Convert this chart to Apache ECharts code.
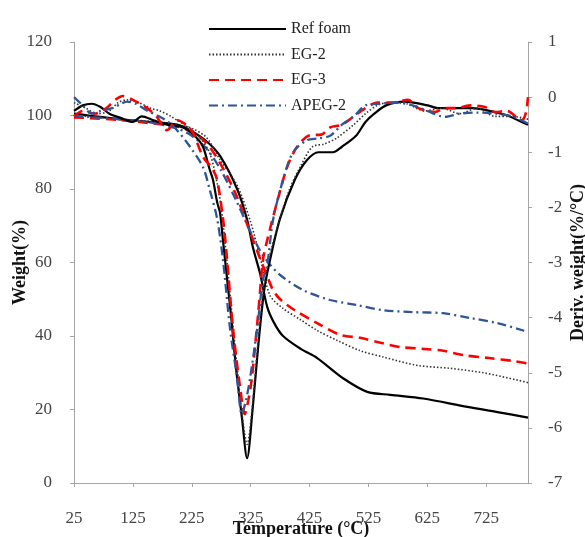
<!DOCTYPE html>
<html><head><meta charset="utf-8">
<script src="https://cdn.jsdelivr.net/npm/echarts@6/dist/echarts.min.js"></script>
<style>html,body{margin:0;padding:0;background:#fff}#c{width:585px;height:537px}</style>
</head><body><div id="c"></div>
<script>
// ---- Data ----
const seriesNames = ['Ref foam', 'EG-2', 'EG-3', 'APEG-2'];
const xTickLabels = [25, 125, 225, 325, 425, 525, 625, 725];

// TGA (weight %, left axis)
const refTgaT = [25, 50, 100, 150, 200, 222, 250, 273, 302, 319, 329, 341, 353, 365, 380, 410, 438, 482, 523, 562, 618, 693, 744, 796];
const refTgaW = [100.5, 100, 99, 98.3, 97.5, 96, 93, 89, 80, 71.6, 64, 57, 48, 43.5, 40, 36.5, 34, 28.5, 24.8, 24, 23, 20.7, 19.3, 17.8];

const eg2TgaT = [25, 50, 100, 150, 200, 225, 250, 273, 302, 324, 341, 358, 380, 409, 438, 472, 511, 550, 608, 664, 720, 778, 796];
const eg2TgaW = [100, 99.7, 99, 98.5, 97.5, 96.5, 94, 88, 81, 71.5, 61.5, 51, 47.5, 44.5, 41.5, 38.8, 36, 34.3, 32, 31.2, 30, 28, 27.3];

const eg3TgaT = [25, 50, 100, 150, 200, 225, 250, 275, 300, 320, 340, 355, 363, 375, 400, 438, 477, 511, 550, 579, 618, 652, 686, 730, 771, 796];
const eg3TgaW = [99.5, 99.3, 98.8, 98, 97, 95.5, 92.5, 86.5, 78.5, 70, 61.5, 55.5, 52.5, 50, 47, 43.5, 40.3, 39.5, 38, 37, 36.5, 36, 34.8, 34, 33.2, 32.5];

const apegTgaT = [25, 50, 100, 150, 200, 225, 250, 275, 300, 320, 340, 355, 375, 414, 460, 506, 550, 601, 652, 698, 744, 788, 796];
const apegTgaW = [100, 99.6, 99, 98.2, 96.5, 94.5, 91, 85, 77, 70, 63.5, 60, 56.6, 52.5, 49.8, 48.4, 47, 46.5, 46.2, 44.9, 43.5, 41.5, 41];

// DTG (deriv. weight %/°C, right axis)
const refDtgT = [25, 40, 55, 70, 85, 105, 125, 140, 160, 183, 210, 230, 244, 255, 261, 268, 273, 278, 285, 292, 300, 310, 319, 328, 338, 348, 358, 375, 400, 420, 440, 465, 480, 504, 520, 535, 555, 586, 626, 643, 701, 723, 760, 779, 796];
const refDtgD = [-0.25, -0.15, -0.12, -0.18, -0.3, -0.38, -0.45, -0.35, -0.42, -0.5, -0.55, -0.7, -0.9, -1.3, -1.5, -1.9, -2.1, -2.6, -3.3, -4.0, -4.9, -5.8, -6.55, -5.7, -4.5, -3.5, -2.95, -2.2, -1.5, -1.15, -1.0, -1.0, -0.9, -0.7, -0.45, -0.3, -0.15, -0.08, -0.15, -0.2, -0.2, -0.23, -0.33, -0.42, -0.5];

const eg2DtgT = [25, 45, 65, 85, 100, 115, 135, 155, 171, 190, 200, 220, 240, 255, 265, 275, 283, 292, 302, 311, 319, 327, 337, 347, 357, 372, 390, 410, 430, 450, 470, 500, 520, 540, 560, 590, 620, 650, 680, 710, 740, 770, 796];
const eg2DtgD = [-0.1, -0.2, -0.3, -0.25, -0.1, -0.05, -0.1, -0.2, -0.25, -0.35, -0.42, -0.55, -0.75, -1.0, -1.4, -2.0, -2.8, -3.8, -4.9, -5.8, -6.3, -5.7, -4.5, -3.5, -2.9, -2.3, -1.7, -1.25, -0.9, -0.85, -0.75, -0.5, -0.3, -0.15, -0.1, -0.12, -0.25, -0.2, -0.3, -0.2, -0.35, -0.35, -0.4];

const eg3DtgT = [25, 40, 60, 80, 95, 108, 125, 149, 165, 183, 200, 215, 227, 244, 260, 268, 278, 285, 295, 307, 315, 321, 327, 338, 346, 353, 370, 387, 404, 426, 445, 460, 480, 500, 520, 540, 565, 592, 610, 638, 655, 672, 700, 723, 740, 760, 785, 792, 796];
const eg3DtgD = [-0.35, -0.25, -0.3, -0.2, -0.05, 0.02, -0.05, -0.2, -0.35, -0.6, -0.42, -0.5, -0.65, -1.08, -1.3, -1.5, -2.2, -2.95, -4.2, -5.26, -5.75, -5.5, -5.1, -3.9, -2.95, -2.6, -1.9, -1.27, -0.9, -0.69, -0.68, -0.55, -0.5, -0.35, -0.2, -0.1, -0.1, -0.05, -0.2, -0.27, -0.2, -0.2, -0.15, -0.18, -0.27, -0.25, -0.42, -0.3, 0.0];

const apegDtgT = [25, 40, 55, 70, 90, 105, 115, 130, 150, 170, 185, 200, 222, 244, 256, 268, 278, 290, 302, 310, 317, 324, 336, 346, 353, 363, 380, 397, 421, 440, 460, 480, 500, 520, 545, 575, 600, 625, 655, 680, 710, 740, 770, 796];
const apegDtgD = [0.0, -0.15, -0.3, -0.25, -0.2, -0.12, -0.08, -0.12, -0.25, -0.35, -0.45, -0.6, -0.9, -1.27, -1.7, -2.2, -2.95, -4.2, -5.1, -5.75, -5.5, -5.1, -4.2, -3.3, -3.05, -2.23, -1.5, -1.0, -0.78, -0.75, -0.7, -0.5, -0.35, -0.15, -0.12, -0.1, -0.15, -0.25, -0.36, -0.3, -0.28, -0.3, -0.35, -0.48];

// ---- Build ----
function zip(t, v) { return t.map((x, i) => [x, v[i]]); }
const styles = {
  'Ref foam': { color: '#000000', width: 2.2, type: 'solid' },
  'EG-2': { color: '#333333', width: 1.6, type: [1.5, 2] },
  'EG-3': { color: '#ff0000', width: 2.6, type: [10, 6] },
  'APEG-2': { color: '#2f5597', width: 2.3, type: [9, 4, 2, 4] }
};
const tga = { 'Ref foam': zip(refTgaT, refTgaW), 'EG-2': zip(eg2TgaT, eg2TgaW), 'EG-3': zip(eg3TgaT, eg3TgaW), 'APEG-2': zip(apegTgaT, apegTgaW) };
const dtg = { 'Ref foam': zip(refDtgT, refDtgD), 'EG-2': zip(eg2DtgT, eg2DtgD), 'EG-3': zip(eg3DtgT, eg3DtgD), 'APEG-2': zip(apegDtgT, apegDtgD) };

const series = [];
seriesNames.forEach(n => {
  const s = styles[n];
  series.push({ name: n, type: 'line', yAxisIndex: 0, data: tga[n], symbol: 'none', smooth: 0.3,
    lineStyle: { color: s.color, width: s.width, type: s.type }, itemStyle: { color: s.color }, z: 3 });
});
seriesNames.forEach(n => {
  const s = styles[n];
  series.push({ name: n, type: 'line', yAxisIndex: 1, data: dtg[n], symbol: 'none', smooth: 0.3,
    lineStyle: { color: s.color, width: s.width, type: s.type }, itemStyle: { color: s.color }, z: 3 });
});

const FONT = '"Liberation Serif", "DejaVu Serif", serif';
const chart = echarts.init(document.getElementById('c'), null, { renderer: 'canvas' });
chart.setOption({
  backgroundColor: '#ffffff',
  animation: false,
  grid: { left: 74, right: 57, top: 42, bottom: 54, containLabel: false, outerBoundsMode: 'none' },
  legend: {
    data: seriesNames, orient: 'vertical', left: 203, top: 16,
    itemWidth: 77, itemHeight: 14, itemGap: 9.5,
    itemStyle: { opacity: 0, color: 'transparent', borderWidth: 0 },
    textStyle: { fontFamily: FONT, fontSize: 16, color: '#222' }
  },
  xAxis: {
    type: 'value', min: 25, max: 796,
    name: 'Temperature (°C)', nameLocation: 'middle', nameGap: 37, nameMoveOverlap: false,
    nameTextStyle: { fontFamily: FONT, fontSize: 18, fontWeight: 'bold', color: '#111' },
    axisLine: { lineStyle: { color: '#a6a6a6', width: 1 } },
    axisTick: { show: true, length: 4, inside: false, lineStyle: { color: '#a6a6a6' }, customValues: xTickLabels },
    axisLabel: { customValues: xTickLabels, margin: 27, fontFamily: FONT, fontSize: 17, color: '#444' },
    splitLine: { show: false }
  },
  yAxis: [
    {
      type: 'value', min: 0, max: 120, interval: 20, position: 'left',
      name: 'Weight(%)', nameLocation: 'middle', nameGap: 45, nameMoveOverlap: false,
      nameTextStyle: { fontFamily: FONT, fontSize: 18, fontWeight: 'bold', color: '#111' },
      axisLine: { show: true, lineStyle: { color: '#a6a6a6' } },
      axisTick: { show: true, length: 4, lineStyle: { color: '#a6a6a6' } },
      axisLabel: { margin: 22, fontFamily: FONT, fontSize: 17, color: '#444' },
      splitLine: { show: false }
    },
    {
      type: 'value', min: -7, max: 1, interval: 1, position: 'right',
      name: 'Deriv. weight(%/°C)', nameLocation: 'middle', nameGap: 41, nameMoveOverlap: false,
      nameTextStyle: { fontFamily: FONT, fontSize: 18, fontWeight: 'bold', color: '#111' },
      axisLine: { show: true, lineStyle: { color: '#a6a6a6' } },
      axisTick: { show: true, length: 4, lineStyle: { color: '#a6a6a6' } },
      axisLabel: { margin: 20, fontFamily: FONT, fontSize: 17, color: '#444' },
      splitLine: { show: false }
    }
  ],
  series: series
});
</script></body></html>
